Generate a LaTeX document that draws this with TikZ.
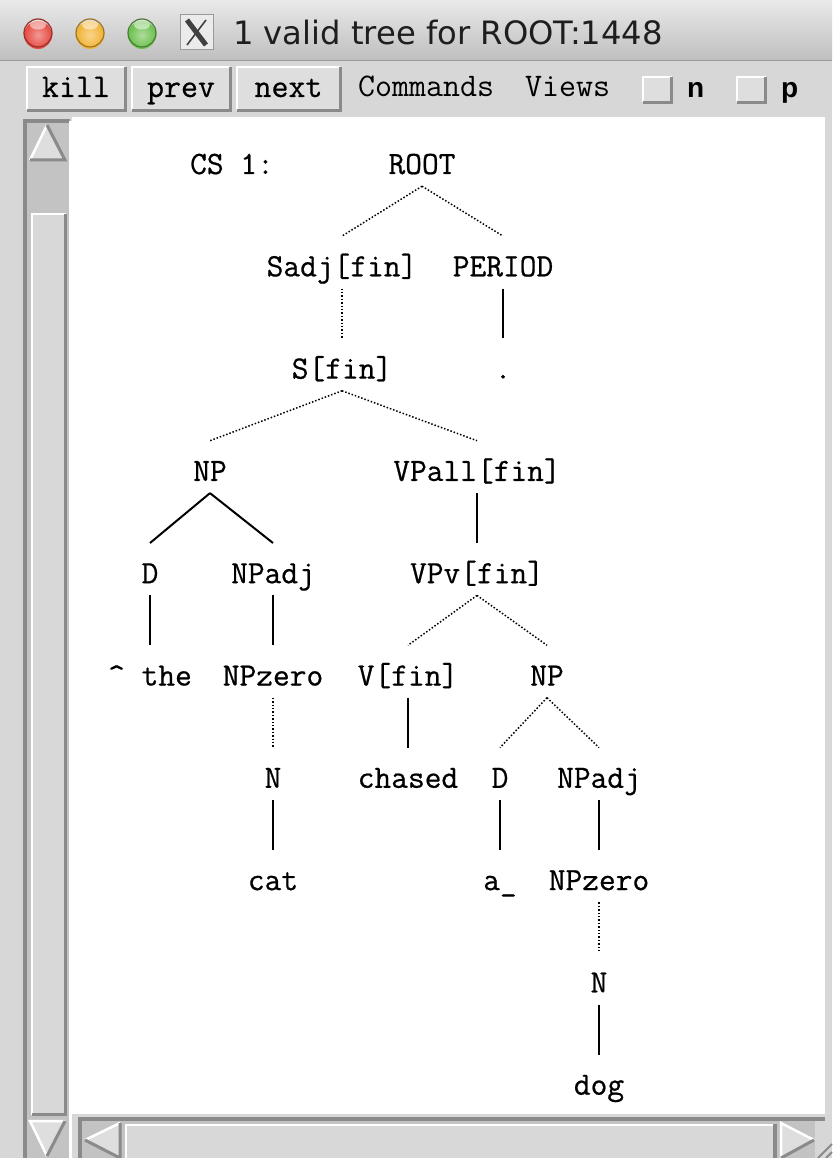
\documentclass[tikz,border=0pt]{standalone}
\usepackage{fontspec}
\newfontfamily\titlefont{DejaVu Sans}
\newfontfamily\boldsans{Liberation Sans}
\newfontfamily\treefont{Latin Modern Mono}[FakeBold=0.6]
\definecolor{winbg}{HTML}{D7D7D7}
\definecolor{tbtop}{HTML}{E9E9E9}
\definecolor{tbbot}{HTML}{BFBFBF}
\definecolor{tbline}{HTML}{9A9A9A}
\definecolor{titletext}{HTML}{1E1E1E}
\definecolor{btnfill}{HTML}{DEDEDE}
\definecolor{shadowc}{HTML}{8A8A8A}
\definecolor{trough}{HTML}{C3C3C3}
\definecolor{slider}{HTML}{D8D8D8}
\definecolor{redl}{HTML}{E5483F}
\definecolor{yell}{HTML}{F2B232}
\definecolor{grnl}{HTML}{6AC04B}
\begin{document}
\begin{tikzpicture}[x=1pt,y=-1pt,
  lab/.style={font=\treefont\fontsize{32.5}{38}\selectfont, inner sep=0pt, text height=40pt, text depth=12pt, anchor=base},
  dotedge/.style={line width=1.5pt, dash pattern=on 1.5pt off 1.9pt},
  soledge/.style={line width=2pt},
  btn/.style={fill=btnfill, inner sep=0pt, minimum height=43pt, text height=22pt, text depth=5pt, font=\treefont\fontsize{33}{38}\selectfont},
  chk/.style={fill=btnfill, inner sep=0pt, minimum width=28pt, minimum height=25pt},
  tool/.style={anchor=base west, inner sep=0pt, font=\ttfamily\fontsize{33}{38}\selectfont},
  boldlab/.style={anchor=base west, inner sep=0pt, font=\boldsans\bfseries\fontsize{28}{30}\selectfont}
]
\useasboundingbox (0,0) rectangle (832,1158);
\fill[winbg] (0,0) rectangle (832,1158);
% title bar
\shade[top color=tbtop,bottom color=tbbot] (0,0) rectangle (832,60);
\draw[tbline,line width=1pt] (0,60.5) -- (832,60.5);
\foreach \cx/\c in {38/redl,90/yell,142/grnl}{
  \shade[inner color=\c!55!white, outer color=\c] (\cx,35) circle (14pt);
  \fill[white,opacity=.5] (\cx,25) ellipse (8pt and 4.5pt);
  \draw[\c!65!black,line width=1.2pt] (\cx,33) circle (14pt);
}
\fill[white!92!black] (180,15) rectangle (213,50);
\draw[tbline,line width=1pt] (180,15) rectangle (213,50);
\draw[black!75,line width=5pt] (187,20) -- (206,45);
\draw[black!75,line width=1.6pt] (206,20) -- (187,45);
\node[anchor=base west, inner sep=0pt, font=\titlefont\fontsize{32.2}{38}\selectfont, text=titletext] (title) at (233,45) {1 valid tree for ROOT:1448};
% toolbar
\node[btn, minimum width=98pt] (kill) at (76,88.5) {kill};
\node[btn, minimum width=98pt] (prev) at (181,88.5) {prev};
\node[btn, minimum width=103pt] (next) at (288.5,88.5) {next};
\foreach \b in {kill,prev,next}{
  \draw[white,line width=2.5pt] (\b.south west) |- (\b.north east);
  \draw[shadowc,line width=3pt] (\b.south west) -| (\b.north east);
}
\node[tool] (cmds) at (358,97) {Commands};
\node[tool] (views) at (525,97) {Views};
\node[chk] (cbn) at (657.5,89.5) {};
\node[chk] (cbp) at (751.5,89.5) {};
\foreach \b in {cbn,cbp}{
  \draw[white,line width=2pt] (\b.south west) |- (\b.north east);
  \draw[shadowc,line width=3pt] (\b.south west) -| (\b.north east);
}
\node[boldlab] (nlab) at (687,98) {n};
\node[boldlab] (plab) at (781,98) {p};
% canvas
\fill[white] (72,117) rectangle (825,1114);
% vertical scrollbar
\fill[trough] (25,119) rectangle (70,1158);
\draw[shadowc,line width=4pt] (25,1158) -- (25,121) -- (70,121);
\draw[white,line width=2.5pt] (70.5,121) -- (70.5,1158);
\fill[slider!85!white] (30,160) -- (47,125) -- (65,160) -- cycle;
\draw[white,line width=2.5pt] (30,160) -- (47,125);
\draw[shadowc,line width=3pt] (47,125) -- (65,160) -- (30,160);
\fill[slider] (31,213) rectangle (66,1115);
\draw[white,line width=2.5pt] (32,1115) |- (66,214);
\draw[shadowc,line width=3pt] (32,1114) -| (65,214);
\fill[slider!85!white] (30,1121) -- (65,1121) -- (47,1156) -- cycle;
\draw[white,line width=2.5pt] (65,1121) -- (30,1121) -- (47,1156);
\draw[shadowc,line width=3pt] (47,1156) -- (65,1121);
% horizontal scrollbar
\fill[trough] (78,1117) rectangle (825,1158);
\draw[shadowc,line width=4pt] (80,1158) -- (80,1119) -- (825,1119);
\fill[slider!85!white] (85,1140) -- (120,1123) -- (120,1158) -- cycle;
\draw[white,line width=2.5pt] (85,1140) -- (120,1123);
\draw[shadowc,line width=3pt] (120,1123) -- (120,1158) -- (85,1140);
\fill[slider] (125,1124) rectangle (777,1158);
\draw[white,line width=2.5pt] (126,1158) |- (776,1125);
\draw[shadowc,line width=3.5pt] (775,1124) -- (775,1158);
\fill[slider!85!white] (781,1123) -- (814,1140) -- (781,1158) -- cycle;
\draw[white,line width=2.5pt] (781,1158) -- (781,1123) -- (814,1140);
\draw[shadowc,line width=3pt] (814,1140) -- (781,1158);
\fill[winbg] (815,1121) rectangle (832,1158);
\draw[shadowc,line width=2pt] (818,1158) -- (832,1144);
\draw[shadowc,line width=2pt] (826,1158) -- (832,1152);
% tree
\node[lab] (cs) at (232,174) {CS 1:};
\node[lab] (root) at (422,174) {ROOT};
\node[lab] (sadj) at (342,276.3) {Sadj[fin]};
\node[lab] (period) at (503,276.3) {PERIOD};
\node[lab] (sfin) at (342,378.6) {S[fin]};
\node[lab] (dot) at (503,378.6) {.};
\node[lab] (np1) at (210,480.9) {NP};
\node[lab] (vpall) at (477,480.9) {VPall[fin]};
\node[lab] (d1) at (150,583.2) {D};
\node[lab] (npadj1) at (273,583.2) {NPadj};
\node[lab] (vpv) at (477,583.2) {VPv[fin]};
\node[lab] (the) at (150,685.5) {\textasciicircum{} the};
\node[lab] (npzero1) at (273,685.5) {NPzero};
\node[lab] (vfin) at (408,685.5) {V[fin]};
\node[lab] (np2) at (547,685.5) {NP};
\node[lab] (n1) at (273,787.8) {N};
\node[lab] (chased) at (408,787.8) {chased};
\node[lab] (d2) at (500,787.8) {D};
\node[lab] (npadj2) at (599,787.8) {NPadj};
\node[lab] (cat) at (273,890.1) {cat};
\node[lab] (a) at (500,890.1) {a\_};
\node[lab] (npzero2) at (599,890.1) {NPzero};
\node[lab] (n2) at (599,992.4) {N};
\node[lab] (dog) at (599,1094.7) {dog};
% edges
\foreach \p/\c in {root/sadj,root/period,sadj/sfin,sfin/np1,sfin/vpall,vpv/vfin,vpv/np2,npzero1/n1,np2/d2,np2/npadj2,npzero2/n2}
  \draw[dotedge] (\p.south) -- (\c.north);
\foreach \p/\c in {period/dot,np1/d1,np1/npadj1,vpall/vpv,d1/the,npadj1/npzero1,vfin/chased,n1/cat,d2/a,npadj2/npzero2,n2/dog}
  \draw[soledge] (\p.south) -- (\c.north);
\end{tikzpicture}
\end{document}
